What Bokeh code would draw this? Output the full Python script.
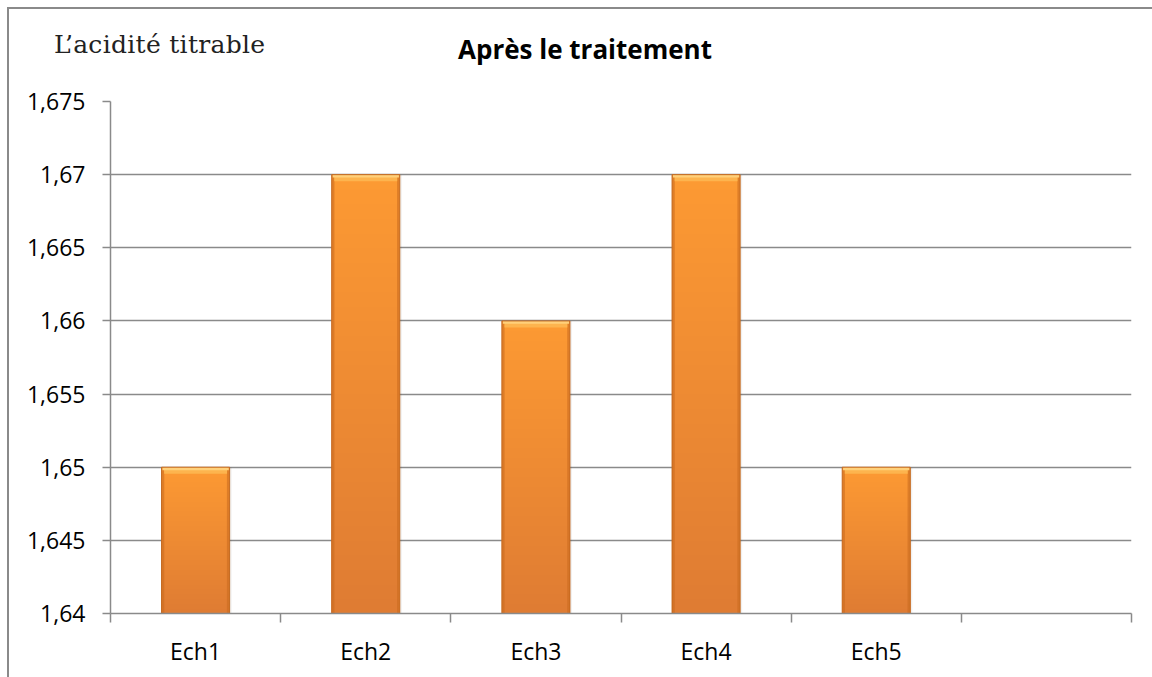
from bokeh.plotting import figure
from bokeh.models import FixedTicker, Div
from bokeh.layouts import column
from bokeh.embed import file_html
from bokeh.resources import INLINE

# Titratable acidity after treatment, per sample
categories = ["Ech1", "Ech2", "Ech3", "Ech4", "Ech5"]
values = [1.65, 1.67, 1.66, 1.67, 1.65]
n_slots = 6  # the category axis has one trailing empty slot

y_ticks = [1.64, 1.645, 1.65, 1.655, 1.66, 1.665, 1.67, 1.675]
y_tick_labels = ["1,64", "1,645", "1,65", "1,655", "1,66", "1,665", "1,67", "1,675"]

title_text = "Après le traitement"
caption_text = "L\u2019acidité titrable"

y_min, y_max = y_ticks[0], y_ticks[-1]
centers = [i + 0.5 for i in range(len(categories))]

GREY = "#8a8a8a"
FONT = "Open Sans"

# header strip with the quantity caption and the chart title
header = Div(
    width=1144, height=60,
    styles={"background": "white", "overflow": "hidden"},
    text=(
        '<div style="position:relative;width:1144px;height:60px;">'
        f'<span style="position:absolute;left:40px;top:18px;line-height:1;'
        f"font-family:'DejaVu Serif';font-size:25px;letter-spacing:0.3px;"
        f'color:#222;white-space:nowrap;">{caption_text}</span>'
        f'<span style="position:absolute;left:571px;top:22px;line-height:1;'
        f"transform:translateX(-50%);font-family:'Open Sans';font-weight:bold;"
        f'font-size:26px;color:#000;white-space:nowrap;">{title_text}</span>'
        "</div>"
    ),
)

p = figure(
    width=1144, height=598,
    x_range=(0, n_slots), y_range=(y_min, y_max),
    output_backend="svg", toolbar_location=None,
    min_border_left=101, min_border_right=22,
    min_border_top=22, min_border_bottom=64,
)
p.outline_line_color = None
p.background_fill_color = "white"
p.border_fill_color = "white"

# soft shadow to the right of each bar
p.vbar(x=[c + 0.012 for c in centers], top=values, bottom=y_min, width=0.4,
       fill_color="#000000", fill_alpha=0.06, line_color=None)

# bar body: base colour, then stacked translucent layers darkening toward the base
p.vbar(x=centers, top=values, bottom=y_min, width=0.4,
       fill_color="#fd9c34", line_color=None)
layers = 30
for k in range(1, layers + 1):
    frac = k / layers
    tops = [y_min + frac * (v - y_min) for v in values]
    p.vbar(x=centers, top=tops, bottom=y_min, width=0.4,
           fill_color="#b9561a", fill_alpha=0.021, line_color=None)

# darker side edges
p.vbar(x=[c - 0.192 for c in centers], top=values, bottom=y_min, width=0.016,
       fill_color="#c86a1e", fill_alpha=0.55, line_color=None)
p.vbar(x=[c + 0.192 for c in centers], top=values, bottom=y_min, width=0.016,
       fill_color="#c86a1e", fill_alpha=0.55, line_color=None)

# bevel highlight along the top edge
p.vbar(x=centers, top=values, bottom=[v - 0.00045 for v in values], width=0.37,
       fill_color="#fdb44e", line_color=None)
p.vbar(x=centers, top=values, bottom=[v - 0.0002 for v in values], width=0.39,
       fill_color="#ffd07a", line_color=None)

# thin darker outline
p.vbar(x=centers, top=values, bottom=y_min, width=0.4,
       fill_color=None, line_color="#c46a22", line_width=1)

# y axis
p.yaxis.ticker = FixedTicker(ticks=y_ticks)
p.yaxis.major_label_overrides = {t: s for t, s in zip(y_ticks, y_tick_labels)}
p.yaxis.axis_line_color = GREY
p.yaxis.axis_line_width = 1.5
p.yaxis.major_tick_line_color = GREY
p.yaxis.major_tick_line_width = 1.5
p.yaxis.major_tick_out = 8
p.yaxis.major_tick_in = 0
p.yaxis.minor_tick_line_color = None
p.yaxis.major_label_standoff = 17
p.yaxis.major_label_text_font = FONT
p.yaxis.major_label_text_font_size = "23px"
p.yaxis.major_label_text_color = "black"

# x axis: labels at category centres, tick marks at category boundaries
p.xaxis.ticker = FixedTicker(ticks=centers, minor_ticks=list(range(n_slots + 1)))
p.xaxis.major_label_overrides = {c: name for c, name in zip(centers, categories)}
p.xaxis.axis_line_color = GREY
p.xaxis.axis_line_width = 1.5
p.xaxis.major_tick_line_color = None
p.xaxis.major_tick_out = 0
p.xaxis.major_tick_in = 0
p.xaxis.minor_tick_line_color = GREY
p.xaxis.minor_tick_line_width = 1.5
p.xaxis.minor_tick_out = 9
p.xaxis.minor_tick_in = 0
p.xaxis.major_label_standoff = 12
p.xaxis.major_label_text_font = FONT
p.xaxis.major_label_text_font_size = "23px"
p.xaxis.major_label_text_color = "black"

p.xgrid.grid_line_color = None
p.ygrid.ticker = FixedTicker(ticks=y_ticks)
p.ygrid.grid_line_color = GREY
p.ygrid.grid_line_width = 1.5

# outer chart border on the top and left edges
layout = column(header, p, spacing=0,
                styles={"margin-left": "7px", "margin-top": "7px",
                        "border-top": f"2px solid {GREY}",
                        "border-left": f"2px solid {GREY}"})

open("out.html", "w").write(file_html(layout, INLINE))
